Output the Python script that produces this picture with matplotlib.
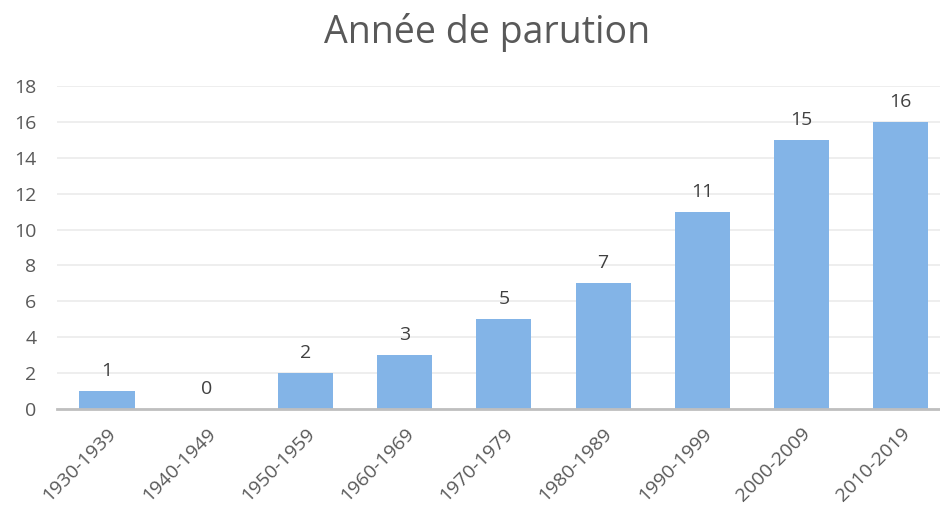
import matplotlib
matplotlib.use("Agg")
import matplotlib.pyplot as plt

periods = ["1930-1939", "1940-1949", "1950-1959", "1960-1969", "1970-1979",
           "1980-1989", "1990-1999", "2000-2009", "2010-2019"]
counts = [1, 0, 2, 3, 5, 7, 11, 15, 16]
yticks = [0, 2, 4, 6, 8, 10, 12, 14, 16, 18]

BAR = "#83B4E7"
TXT = "#595959"

plt.rcParams["font.family"] = ["Open Sans", "DejaVu Sans"]

fig = plt.figure(figsize=(9.4, 5.08), dpi=100)
ax = fig.add_axes([57.4 / 940, 1 - 409 / 508, 893 / 940, (409 - 86) / 508])

x = range(len(periods))
bars = ax.bar(x, counts, width=0.555, color=BAR, zorder=3)
for b, v in zip(bars, counts):
    ax.annotate(str(v), (b.get_x() + b.get_width() / 2, v), xytext=(0, 8),
                textcoords="offset points", ha="center", va="bottom",
                fontsize=14, color="#404040")

ax.set_xlim(-0.5, len(periods) - 0.5)
ax.set_ylim(0, 18)
ax.set_yticks(yticks)
ax.set_yticklabels([str(t) for t in yticks], fontsize=14, color=TXT)
ax.set_xticks(list(x))
ax.set_xticklabels(periods, rotation=45, ha="right", rotation_mode="anchor",
                   fontsize=14, color=TXT)
ax.tick_params(axis="both", length=0)
ax.tick_params(axis="y", pad=15)
ax.tick_params(axis="x", pad=11)

ax.grid(axis="y", color="#EBEBEB", lw=1.2, zorder=0)
for s in ["top", "right", "left"]:
    ax.spines[s].set_visible(False)
ax.spines["bottom"].set_color("#BFBFBF")
ax.spines["bottom"].set_linewidth(2)
ax.spines["bottom"].set_zorder(4)

fig.text(487 / 940, 1 - 32 / 508, "Année de parution", ha="center", va="center",
         fontsize=27, color=TXT)

fig.savefig("out.png", dpi=100)
